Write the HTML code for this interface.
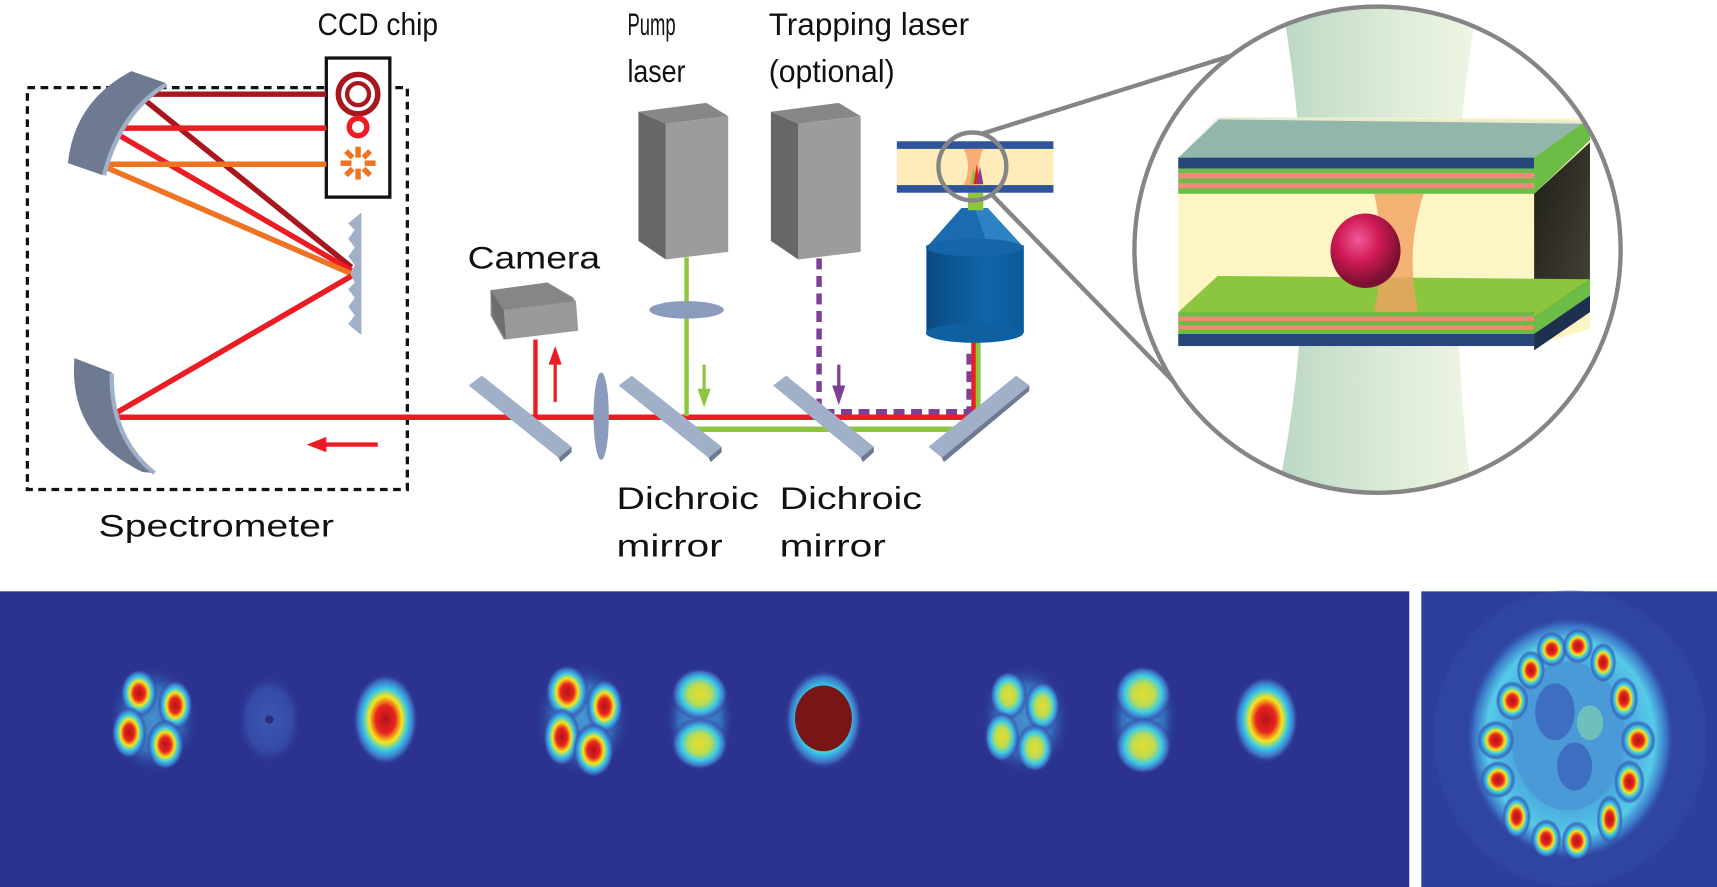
<!DOCTYPE html>
<html><head><meta charset="utf-8"><style>
html,body{margin:0;padding:0;background:#fff;}
svg{display:block;}
text{font-family:"Liberation Sans",sans-serif;fill:#111;}
</style></head><body>
<svg width="1717" height="887" viewBox="0 0 1568 810" preserveAspectRatio="none" xmlns="http://www.w3.org/2000/svg">
<defs>
<radialGradient id="jet" cx="50%" cy="50%" r="50%">
<stop offset="0" stop-color="#b3121b"/><stop offset="0.3" stop-color="#e8241e"/><stop offset="0.5" stop-color="#f5e61c"/><stop offset="0.68" stop-color="#36c8e8"/><stop offset="0.85" stop-color="#3f6fc4"/><stop offset="1" stop-color="#2b338f" stop-opacity="0"/>
</radialGradient>
<radialGradient id="jety" cx="50%" cy="50%" r="50%">
<stop offset="0" stop-color="#e8dc2a"/><stop offset="0.4" stop-color="#b9dc55"/><stop offset="0.65" stop-color="#3ccbe6"/><stop offset="0.85" stop-color="#3f6fc4"/><stop offset="1" stop-color="#2b338f" stop-opacity="0"/>
</radialGradient>
<radialGradient id="halo" cx="50%" cy="50%" r="50%">
<stop offset="0" stop-color="#4fb8e6"/><stop offset="0.6" stop-color="#3a8ad0"/><stop offset="1" stop-color="#2b338f" stop-opacity="0"/>
</radialGradient>
<radialGradient id="faint" cx="50%" cy="50%" r="50%">
<stop offset="0" stop-color="#3d58b0"/><stop offset="0.7" stop-color="#354aa6"/><stop offset="1" stop-color="#2b338f" stop-opacity="0"/>
</radialGradient>
<radialGradient id="ringbg" cx="50%" cy="50%" r="50%">
<stop offset="0.55" stop-color="#4aa8de"/><stop offset="0.8" stop-color="#55cbe8"/><stop offset="0.92" stop-color="#3a70c4"/><stop offset="1" stop-color="#2f3f9c" stop-opacity="0"/>
</radialGradient>
<linearGradient id="beam" x1="0" x2="1"><stop offset="0" stop-color="#b9d6c4"/><stop offset="1" stop-color="#dcecc8" stop-opacity="0.5"/></linearGradient>
<radialGradient id="bead" cx="40%" cy="35%" r="60%"><stop offset="0" stop-color="#f05a9a"/><stop offset="0.5" stop-color="#d01a55"/><stop offset="1" stop-color="#7a1030"/></radialGradient>
<linearGradient id="obj" x1="0" x2="1"><stop offset="0" stop-color="#0b4a80"/><stop offset="0.6" stop-color="#0e65a8"/><stop offset="1" stop-color="#0c5a98"/></linearGradient>
<linearGradient id="dark" x1="0" y1="0" x2="1" y2="1"><stop offset="0" stop-color="#1e1e18"/><stop offset="1" stop-color="#4a463c"/></linearGradient>
<clipPath id="bigc"><circle cx="1258" cy="228" r="222"/></clipPath>
</defs>

<rect x="25" y="80" width="347" height="367" fill="none" stroke="#111" stroke-width="3" stroke-dasharray="7,5"/>
<text x="290" y="32" font-size="29" textLength="110" lengthAdjust="spacingAndGlyphs">CCD chip</text>
<rect x="298" y="53" width="58" height="127" fill="#fff" stroke="#111" stroke-width="3"/>
<circle cx="327" cy="86" r="18" fill="none" stroke="#a8161e" stroke-width="5"/>
<circle cx="327" cy="86" r="10" fill="none" stroke="#a8161e" stroke-width="4"/>
<circle cx="327" cy="116" r="8" fill="none" stroke="#ec1c24" stroke-width="5"/>
<g stroke="#ee7322" stroke-width="5"><line x1="327" y1="134" x2="327" y2="144"/><line x1="327" y1="154" x2="327" y2="164"/><line x1="311" y1="149" x2="321" y2="149"/><line x1="333" y1="149" x2="343" y2="149"/><line x1="316" y1="138" x2="322" y2="144"/><line x1="332" y1="154" x2="338" y2="160"/><line x1="338" y1="138" x2="332" y2="144"/><line x1="322" y1="154" x2="316" y2="160"/></g>
<g stroke-width="5" fill="none">
<line x1="126" y1="86" x2="298" y2="86" stroke="#a8161e"/>
<line x1="128" y1="88" x2="321" y2="244" stroke="#a8161e"/>
<line x1="101" y1="117" x2="298" y2="117" stroke="#ec1c24"/>
<line x1="101" y1="119" x2="321" y2="247" stroke="#ec1c24"/>
<line x1="95" y1="150" x2="298" y2="150" stroke="#ee7322"/>
<line x1="95" y1="152" x2="321" y2="250" stroke="#ee7322"/>
<line x1="321" y1="252" x2="101" y2="380" stroke="#ec1c24"/>
<line x1="101" y1="381" x2="890" y2="381" stroke="#ec1c24"/>
</g>
<path d="M120,65 L152,76 Q108,100 94,160 L62,149 Q68,92 120,65Z" fill="#6d7a92"/>
<path d="M152,77 Q110,102 95,160" fill="none" stroke="#9fb0c8" stroke-width="4"/>
<path d="M68,327 L102,340 Q100,400 141,432 L130,431 Q62,398 68,327Z" fill="#6d7a92"/>
<path d="M102,341 Q101,400 141,432" fill="none" stroke="#9fb0c8" stroke-width="4"/>
<path d="M330,194 L330,306 L318,296 L324,288 L318,280 L324,272 L318,264 L324,258 L320,250 L324,242 L318,234 L324,226 L318,218 L324,210 L318,204 Z" fill="#9fb0c8"/>
<line x1="345" y1="406" x2="295" y2="406" stroke="#ec1c24" stroke-width="4"/>
<polygon points="280,406 298,399 298,413" fill="#ec1c24"/>
<text x="90" y="490" font-size="29" textLength="215" lengthAdjust="spacingAndGlyphs">Spectrometer</text>

<text x="427" y="245" font-size="29" textLength="121" lengthAdjust="spacingAndGlyphs">Camera</text>
<polygon points="448,265 500,258 524,272 524,302 460,310 448,288" fill="#8a8a8a"/>
<polygon points="448,265 500,258 526,275 460,283" fill="#868686"/>
<polygon points="460,283 526,275 528,302 462,310" fill="#999"/>
<polygon points="448,265 460,283 462,310 450,290" fill="#6e6e6e"/>
<line x1="489" y1="310" x2="489" y2="382" stroke="#ec1c24" stroke-width="4"/>
<line x1="507" y1="367" x2="507" y2="330" stroke="#ec1c24" stroke-width="3"/>
<polygon points="507,316 501,333 513,333" fill="#ec1c24"/>

<text x="573" y="32" font-size="29" textLength="44" lengthAdjust="spacingAndGlyphs">Pump</text>
<text x="573" y="75" font-size="29" textLength="53" lengthAdjust="spacingAndGlyphs">laser</text>
<polygon points="583,102 645,94 665,106 608,113" fill="#878787"/>
<polygon points="608,113 665,106 665,230 608,237" fill="#9c9c9c"/>
<polygon points="583,102 608,113 608,237 583,220" fill="#676767"/>
<line x1="627" y1="235" x2="627" y2="380" stroke="#8cc63f" stroke-width="4"/>
<ellipse cx="627" cy="283" rx="34" ry="8" fill="#8a9bbd"/>
<line x1="643" y1="333" x2="643" y2="358" stroke="#8cc63f" stroke-width="3"/>
<polygon points="643,372 637,355 649,355" fill="#8cc63f"/>

<text x="702" y="32" font-size="29" textLength="183" lengthAdjust="spacingAndGlyphs">Trapping laser</text>
<text x="702" y="75" font-size="29" textLength="115" lengthAdjust="spacingAndGlyphs">(optional)</text>
<polygon points="704,102 766,94 786,106 729,113" fill="#878787"/>
<polygon points="729,113 786,106 786,230 729,237" fill="#9c9c9c"/>
<polygon points="704,102 729,113 729,237 704,220" fill="#676767"/>
<path d="M748,236 L748,376 L885,376 L885,318" fill="none" stroke="#7d3f98" stroke-width="5" stroke-dasharray="10,6"/>
<line x1="766" y1="333" x2="766" y2="355" stroke="#7d3f98" stroke-width="3"/>
<polygon points="766,370 760,352 772,352" fill="#7d3f98"/>

<line x1="627" y1="392" x2="890" y2="392" stroke="#8cc63f" stroke-width="5"/>
<line x1="893" y1="392" x2="893" y2="310" stroke="#8cc63f" stroke-width="5"/>
<line x1="889" y1="384" x2="889" y2="310" stroke="#ec1c24" stroke-width="4"/>

<g>
<polygon points="428,352 440,343 522,408 510,418" fill="#9fb0c8"/>
<polygon points="510,418 522,408 522,413 512,422" fill="#6d7a92"/>
<polygon points="565,352 577,343 659,408 647,418" fill="#9fb0c8"/>
<polygon points="647,418 659,408 659,413 649,422" fill="#6d7a92"/>
<polygon points="706,352 718,343 798,408 786,418" fill="#9fb0c8"/>
<polygon points="786,418 798,408 798,413 788,422" fill="#6d7a92"/>
<polygon points="940,352 928,343 848,408 860,418" fill="#9fb0c8"/>
<polygon points="940,352 940,357 862,422 860,418" fill="#6d7a92"/>
</g>
<ellipse cx="549" cy="380" rx="7" ry="40" fill="#8a9bbd"/>

<text x="563" y="465" font-size="29" textLength="130" lengthAdjust="spacingAndGlyphs">Dichroic</text>
<text x="563" y="508" font-size="29" textLength="97" lengthAdjust="spacingAndGlyphs">mirror</text>
<text x="712" y="465" font-size="29" textLength="130" lengthAdjust="spacingAndGlyphs">Dichroic</text>
<text x="712" y="508" font-size="29" textLength="97" lengthAdjust="spacingAndGlyphs">mirror</text>

<polygon points="878,190 902,190 935,226 846,226" fill="#1a6bb0"/>
<polygon points="890,190 902,190 935,226 905,232" fill="#2d82c4"/>
<rect x="846" y="224" width="89" height="80" fill="url(#obj)"/>
<ellipse cx="890" cy="304" rx="44.5" ry="9" fill="#0e60a0"/>
<ellipse cx="890" cy="226" rx="44.5" ry="8" fill="#1566a8"/>
<rect x="884" y="176" width="14" height="16" fill="#8cc63f"/>

<rect x="819" y="136" width="143" height="33" fill="#ffecba"/>
<rect x="819" y="129" width="143" height="7" fill="#2e5599"/>
<rect x="819" y="169" width="143" height="7" fill="#2e5599"/>
<path d="M880,136 L898,136 Q890,152 898,169 L880,169 Q888,152 880,136Z" fill="#f8ad78"/>
<polygon points="886,168 889,153 892,168" fill="#8cc63f"/>
<polygon points="889,168 892,150 895,168" fill="#ec1c24"/>
<polygon points="892,168 895,152 898,168" fill="#7d3f98"/>
<circle cx="888" cy="152" r="31" fill="none" stroke="#858585" stroke-width="4"/>
<line x1="897" y1="122" x2="1124" y2="51" stroke="#858585" stroke-width="4"/>
<line x1="906" y1="178" x2="1078" y2="355" stroke="#858585" stroke-width="4"/>

<circle cx="1258" cy="228" r="222" fill="#fff"/>
<g clip-path="url(#bigc)">
<path d="M1170,0 L1350,0 Q1330,110 1330,228 Q1330,340 1345,460 L1165,460 Q1190,340 1190,228 Q1190,110 1170,0Z" fill="url(#beam)"/>
<polygon points="1076,144 1115,107 1452,108 1452,300 1401,316 1076,316" fill="#fdf6c4"/>
<polygon points="1076,144 1113,109 1452,113 1405,150" fill="#80ac90"/>
<polygon points="1076,144 1111,107 1452,110 1405,148" fill="#c0cce8" opacity="0.3"/>
<rect x="1076" y="144" width="325" height="10" fill="#27467a"/>
<rect x="1076" y="154" width="325" height="23" fill="#6cbd45"/>
<rect x="1076" y="158" width="325" height="5" fill="#f08a7a"/>
<rect x="1076" y="167" width="325" height="5" fill="#f08a7a"/>
<polygon points="1401,144 1452,108 1452,128 1401,177" fill="#6cbd45"/>
<polygon points="1401,177 1452,130 1452,270 1401,316" fill="url(#dark)"/>
<polygon points="1076,285 1112,252 1452,255 1401,290" fill="#8cc63f"/>
<path d="M1200,177 L1245,177 Q1228,230 1240,284 Q1222,290 1200,284 Q1212,230 1200,177Z" fill="#f0a060" opacity="0.8" transform="translate(55,0)"/>
<rect x="1076" y="285" width="325" height="20" fill="#6cbd45"/>
<rect x="1076" y="289" width="325" height="4" fill="#f08a7a"/>
<rect x="1076" y="297" width="325" height="4" fill="#f08a7a"/>
<rect x="1076" y="305" width="325" height="11" fill="#27467a"/>
<polygon points="1401,290 1452,255 1452,282 1401,316" fill="#6cbd45"/>
<polygon points="1401,305 1452,270 1452,285 1401,320" fill="#1e3050"/>
<ellipse cx="1247" cy="229" rx="32" ry="34" fill="url(#bead)"/>
</g>
<circle cx="1258" cy="228" r="222" fill="none" stroke="#858585" stroke-width="4"/>

<rect x="0" y="540" width="1287" height="270" fill="#2b338f"/>
<rect x="1298" y="540" width="270" height="270" fill="#2d3f9a"/>
<g>
<ellipse cx="140" cy="657" rx="42" ry="50" fill="url(#halo)" opacity="0.7"/>
<ellipse cx="127" cy="633" rx="17" ry="22" fill="url(#jet)"/>
<ellipse cx="160" cy="644" rx="16" ry="23" fill="url(#jet)"/>
<ellipse cx="118" cy="669" rx="16" ry="24" fill="url(#jet)"/>
<ellipse cx="151" cy="680" rx="17" ry="23" fill="url(#jet)"/>
<ellipse cx="246" cy="657" rx="30" ry="42" fill="url(#faint)"/>
<ellipse cx="246" cy="657" rx="4" ry="4" fill="#2a2f80"/>
<ellipse cx="352" cy="657" rx="30" ry="42" fill="url(#jet)"/>
<ellipse cx="532" cy="657" rx="44" ry="52" fill="url(#halo)" opacity="0.75"/>
<ellipse cx="518" cy="632" rx="20" ry="25" fill="url(#jet)"/>
<ellipse cx="552" cy="645" rx="17" ry="25" fill="url(#jet)"/>
<ellipse cx="513" cy="673" rx="17" ry="27" fill="url(#jet)"/>
<ellipse cx="542" cy="685" rx="19" ry="25" fill="url(#jet)"/>
<ellipse cx="639" cy="657" rx="32" ry="48" fill="url(#halo)" opacity="0.7"/>
<ellipse cx="639" cy="634" rx="26" ry="24" fill="url(#jety)"/>
<ellipse cx="639" cy="679" rx="26" ry="24" fill="url(#jety)"/>
<ellipse cx="752" cy="657" rx="36" ry="46" fill="url(#jet)"/>
<ellipse cx="752" cy="656" rx="26" ry="30" fill="#7a1517"/>
<ellipse cx="936" cy="657" rx="42" ry="52" fill="url(#halo)" opacity="0.7"/>
<ellipse cx="921" cy="635" rx="17" ry="22" fill="url(#jety)"/>
<ellipse cx="952" cy="645" rx="16" ry="23" fill="url(#jety)"/>
<ellipse cx="915" cy="673" rx="16" ry="23" fill="url(#jety)"/>
<ellipse cx="945" cy="683" rx="17" ry="22" fill="url(#jety)"/>
<ellipse cx="1044" cy="657" rx="32" ry="50" fill="url(#halo)" opacity="0.7"/>
<ellipse cx="1044" cy="634" rx="26" ry="26" fill="url(#jety)"/>
<ellipse cx="1044" cy="681" rx="26" ry="26" fill="url(#jety)"/>
<ellipse cx="1156" cy="657" rx="30" ry="40" fill="url(#jet)"/>
</g>
<g>
<ellipse cx="1434" cy="674" rx="125" ry="135" fill="#3450a8" opacity="0.35"/>
<ellipse cx="1434" cy="674" rx="96" ry="112" fill="url(#ringbg)"/>
<ellipse cx="1432" cy="672" rx="52" ry="68" fill="#4b9ad8"/>
<ellipse cx="1420" cy="650" rx="18" ry="26" fill="#3d6ec0"/>
<ellipse cx="1438" cy="700" rx="16" ry="22" fill="#3d6ec0"/>
<ellipse cx="1452" cy="660" rx="12" ry="16" fill="#7dd0b0" opacity="0.7"/>
<g fill="url(#jet)">
<ellipse cx="1398" cy="612" rx="13" ry="18"/><ellipse cx="1417" cy="593" rx="14" ry="16"/><ellipse cx="1441" cy="590" rx="14" ry="16"/><ellipse cx="1464" cy="605" rx="12" ry="18"/>
<ellipse cx="1381" cy="640" rx="15" ry="18"/><ellipse cx="1366" cy="676" rx="17" ry="18"/><ellipse cx="1368" cy="712" rx="16" ry="17"/>
<ellipse cx="1483" cy="638" rx="13" ry="20"/><ellipse cx="1496" cy="676" rx="16" ry="18"/><ellipse cx="1488" cy="714" rx="14" ry="20"/>
<ellipse cx="1385" cy="746" rx="13" ry="20"/><ellipse cx="1412" cy="766" rx="14" ry="18"/><ellipse cx="1440" cy="768" rx="14" ry="18"/><ellipse cx="1470" cy="748" rx="12" ry="22"/>
</g>
</g>
</svg>
</body></html>
